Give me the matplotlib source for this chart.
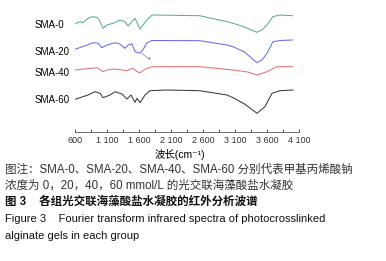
import matplotlib
matplotlib.use('Agg')
import matplotlib.pyplot as plt

plt.rcParams['font.family'] = ['Liberation Sans', 'Noto Sans CJK SC', 'DejaVu Sans']

# FTIR spectra (wavenumber in cm-1, relative transmittance, curves stacked)
wn0 = [600, 616, 678, 725, 803, 866, 944, 991, 1038, 1100, 1194, 1303, 1381, 1428, 1491, 1538, 1616, 1663,
       1725, 1803, 2550, 2975, 3070, 3250, 3440, 3520, 3600, 3690, 3800, 4000]
t0 = [108.7, 108.7, 110.3, 109.3, 113.7, 115.3, 114.7, 110.3, 103.7, 107, 108.7, 112, 110.3, 106, 110.3, 113.7,
      103, 107, 112, 117, 116.3, 110.3, 108.7, 105, 99.7, 102, 107, 115.3, 117, 116.3]
wn20 = [600, 790, 880, 960, 1020, 1100, 1225, 1300, 1380, 1430, 1490, 1540, 1585, 1620, 1660, 1720, 1800,
        2550, 2975, 3070, 3250, 3440, 3520, 3600, 3694, 3800, 4000]
t20 = [82.7, 87, 89.3, 88.7, 84.3, 87, 89.3, 88, 83.7, 87, 88, 80.3, 79.3, 79, 82, 89, 91.5,
       91.3, 87, 85.3, 80, 69.3, 72, 78.7, 90.3, 91.5, 92]
wn40 = [600, 944, 1038, 1100, 1225, 1410, 1506, 1570, 1616, 1694, 1803, 2550, 3070, 3300, 3440, 3600, 3756, 4000]
t40 = [62, 64.3, 60.3, 62, 63, 61.3, 63.7, 60.3, 59.3, 62.7, 65.3, 65.3, 62, 60, 57, 60.3, 65.3, 65.3]
wn60 = [600, 803, 913, 991, 1038, 1147, 1225, 1334, 1413, 1475, 1538, 1569, 1616, 1694, 1772, 2038, 2550,
        2975, 3070, 3250, 3444, 3569, 3678, 3803, 4006]
t60 = [32.7, 37, 40.3, 38.7, 34.3, 37, 40.3, 38, 33, 37, 29.7, 33.7, 29.3, 37, 41.3, 42, 41.3,
       37, 34.3, 28, 18.7, 25.3, 38.7, 41.3, 42]

names = ['SMA-0', 'SMA-20', 'SMA-40', 'SMA-60']
colors = ['#5aab9c', '#6b6be6', '#e87070', '#3a3a3a']
xticks = [600, 1100, 1600, 2100, 2600, 3100, 3600, 4100]
xticklabels = ['600', '1 100', '1 600', '2 100', '2 600', '3 100', '3 600', '4 100']

fig = plt.figure(figsize=(3.86, 2.61), dpi=100)
ax = fig.add_axes([75 / 386, 129 / 261, 224 / 386, 127 / 261])

for wn, t, c in zip([wn0, wn20, wn40, wn60], [t0, t20, t40, t60], colors):
    ax.plot(wn, t, color=c, lw=0.75)

# marker on SMA-20
ax.plot([1650, 1735], [78.5, 74], color='#999999', lw=0.6)
ax.text(1760, 72.5, '*', fontsize=5, color='#333333', ha='center', va='center')

label_y = [107, 80, 59, 32]
for name, y in zip(names, label_y):
    fig.text(35 / 386, (129 + y) / 261, name, fontsize=7, va='center', ha='left')

ax.set_xlim(600, 4100)
ax.set_ylim(0, 127)
ax.set_xticks(xticks)
ax.set_xticklabels(xticklabels, fontsize=6.5)
ax.set_xticks(range(850, 4100, 500), minor=True)
ax.tick_params(axis='x', which='both', direction='in', length=2, width=0.6, pad=3, colors='#333333')
ax.set_yticks([])
for s in ['top', 'right', 'left']:
    ax.spines[s].set_visible(False)
ax.spines['bottom'].set_linewidth(0.6)
ax.spines['bottom'].set_color('#555555')

fig.text(180 / 386, 1 - 155 / 261, '波长(cm⁻¹)', fontsize=7.5, ha='center', va='center')

captions = [
    ('图注：SMA-0、SMA-20、SMA-40、SMA-60 分别代表甲基丙烯酸钠', 'normal', '#333333', 8.3),
    ('浓度为 0，20，40，60 mmol/L 的光交联海藻酸盐水凝胶', 'normal', '#333333', 8.3),
    ('图 3    各组光交联海藻酸盐水凝胶的红外分析波谱', 'bold', '#111111', 8.3),
    ('Figure 3    Fourier transform infrared spectra of photocrosslinked', 'normal', '#111111', 8),
    ('alginate gels in each group', 'normal', '#111111', 8),
]
cap_y = [170, 186, 202, 219, 236]
for (txt, w, c, fs), y in zip(captions, cap_y):
    fig.text(5 / 386, 1 - y / 261, txt, fontsize=fs, fontweight=w, color=c, va='center', ha='left')

fig.savefig('out.png', dpi=100)
